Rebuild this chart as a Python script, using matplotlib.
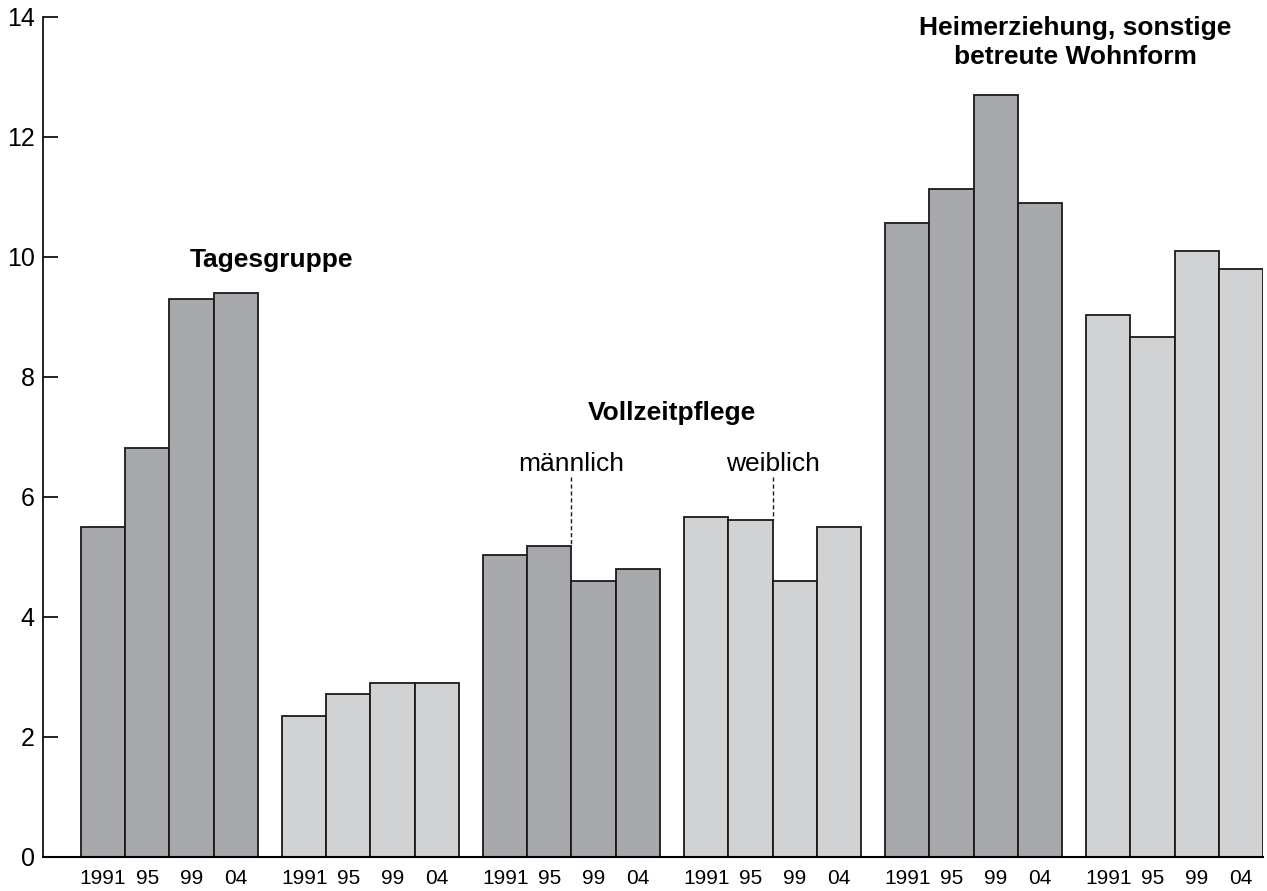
import numpy as np
import matplotlib.pyplot as plt

plt.rcParams["font.family"] = ["Liberation Sans", "DejaVu Sans"]

# ==========================
# Daten
YEARS = ["1991", "95", "99", "04"]

tages_m = [5.50, 6.82, 9.30, 9.40]
tages_w = [2.35, 2.72, 2.90, 2.90]
vollzeit_m = [5.03, 5.18, 4.60, 4.80]
vollzeit_w = [5.67, 5.62, 4.60, 5.50]
heim_m = [10.57, 11.13, 12.70, 10.90]
heim_w = [9.03, 8.67, 10.10, 9.80]

GROUPS = [tages_m, tages_w, vollzeit_m, vollzeit_w, heim_m, heim_w]
SEX = ["m", "w", "m", "w", "m", "w"]

COL_M = "#a7a8ac"
COL_W = "#d1d2d4"
# ==========================

BAR_W = 1.0
STRIDE = 4.55
X0 = 0.86
LABEL_FS = 19

fig = plt.figure(figsize=(12.67, 8.91), dpi=100)
ax = fig.add_axes([43 / 1267, 34 / 891, 1220 / 1267, 840 / 891])

tick_pos = []
tick_lab = []
for g, vals in enumerate(GROUPS):
    lefts = X0 + g * STRIDE + np.arange(len(vals)) * BAR_W
    col = COL_M if SEX[g] == "m" else COL_W
    ax.bar(lefts, vals, width=BAR_W, align="edge", color=col,
           edgecolor="#1a1a1a", linewidth=1.3, zorder=2)
    tick_pos.extend(list(lefts + BAR_W / 2))
    tick_lab.extend(YEARS)

ax.set_xlim(0, X0 + 5 * STRIDE + 4 * BAR_W)
ax.set_ylim(0, 14)

ax.set_xticks(tick_pos)
ax.set_xticklabels(tick_lab, fontsize=15)
ax.tick_params(axis="x", length=0, pad=9)
ax.set_yticks(np.arange(0, 15, 2))
ax.tick_params(axis="y", direction="in", length=11, width=1.2,
               labelsize=18, pad=6)

for s in ["top", "right"]:
    ax.spines[s].set_visible(False)
ax.spines["left"].set_linewidth(1.2)
ax.spines["bottom"].set_linewidth(1.5)

# Beschriftungen
ax.text(5.16, 9.83, "Tagesgruppe", ha="center",
        va="baseline", fontsize=LABEL_FS, fontweight="bold")

ax.text(14.23, 7.28, "Vollzeitpflege", ha="center",
        va="baseline", fontsize=LABEL_FS, fontweight="bold")

xm = X0 + 2 * STRIDE + 2 * BAR_W
xw = X0 + 3 * STRIDE + 2 * BAR_W
ax.text(xm, 6.43, "männlich", ha="center", va="baseline", fontsize=LABEL_FS)
ax.text(xw, 6.43, "weiblich", ha="center", va="baseline", fontsize=LABEL_FS)
ax.plot([xm, xm], [6.33, vollzeit_m[1]], ls=(0, (3, 2)), color="#1a1a1a",
        lw=1.0, zorder=3)
ax.plot([xw, xw], [6.33, vollzeit_w[1]], ls=(0, (3, 2)), color="#1a1a1a",
        lw=1.0, zorder=3)

ax.text(23.36, 13.70, "Heimerziehung, sonstige", ha="center",
        va="baseline", fontsize=LABEL_FS, fontweight="bold")
ax.text(23.36, 13.22, "betreute Wohnform", ha="center",
        va="baseline", fontsize=LABEL_FS, fontweight="bold")

plt.savefig("out.png", dpi=100)
